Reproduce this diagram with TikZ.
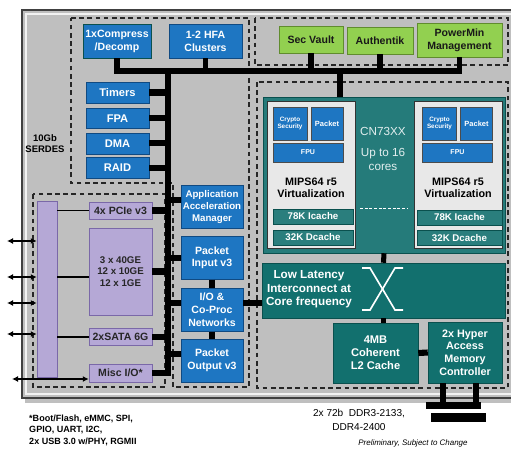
\documentclass[tikz,border=0pt]{standalone}
\usepackage{fontspec}
\setmainfont{Liberation Sans}
\usetikzlibrary{arrows.meta, positioning, calc}
\definecolor{chipgray}{RGB}{191,191,191}
\definecolor{cnblue}{RGB}{30,118,194}
\definecolor{cnblueline}{RGB}{16,74,130}
\definecolor{cngreen}{RGB}{146,208,80}
\definecolor{cngreenline}{RGB}{96,140,46}
\definecolor{cnteal}{RGB}{18,112,110}
\definecolor{cntealline}{RGB}{10,80,78}
\definecolor{cnlilac}{RGB}{181,168,214}
\definecolor{cnlilacline}{RGB}{122,104,168}
\definecolor{cnpanel}{RGB}{232,232,232}

\begin{document}
\begin{tikzpicture}[x=0.03cm, y=-0.03cm,
  unitbox/.style={rectangle, draw=cnblueline, fill=cnblue, text=white, inner sep=0pt, align=center, font=\fontsize{9}{11}\selectfont\bfseries},
  sidebox/.style={unitbox, minimum width=1.89cm, minimum height=0.62cm, font=\fontsize{9.5}{11}\selectfont\bfseries},
  appbox/.style={unitbox, minimum width=1.86cm, minimum height=1.3cm},
  minibox/.style={unitbox, draw=black!70, line width=0.7pt},
  secbox/.style={rectangle, draw=cngreenline, fill=cngreen, text=black!90, inner sep=0pt, align=center, font=\fontsize{9}{11}\selectfont\bfseries},
  tealbox/.style={rectangle, draw=cntealline, fill=cnteal, text=white, inner sep=0pt, align=center, font=\fontsize{9.5}{11}\selectfont\bfseries},
  cachebox/.style={tealbox, fill=cnteal!90!white, minimum height=0.45cm, font=\fontsize{8.3}{10}\selectfont\bfseries},
  corepanel/.style={rectangle, draw=black!80, fill=cnpanel, line width=0.8pt, minimum width=2.64cm, minimum height=4.41cm},
  portbox/.style={rectangle, draw=cnlilacline, fill=cnlilac, text=black!85, inner sep=0pt, align=center, minimum width=1.89cm, font=\fontsize{9}{10}\selectfont\bfseries},
  ddrbar/.style={rectangle, fill=black, inner sep=0pt},
  zone/.style={draw=black!85, line width=0.9pt, dash pattern=on 4pt off 3pt},
  bus/.style={line width=4.3pt},
  tap/.style={line width=5.2pt},
  link/.style={line width=1.5pt},
  dbl/.style={{Latex[length=1.8mm,width=1.8mm]}-{Latex[length=1.8mm,width=1.8mm]}, line width=1.2pt},
  xcross/.style={white, line width=1.4pt}
]
\useasboundingbox (0,0) rectangle (511,448);
\clip (0,0) rectangle (511,448);

% chip body
\fill[black!25] (25,13) rectangle (525,403);
\draw[draw=black!75, line width=1.6pt, fill=chipgray] (22,10) rectangle (525,398);
\draw[white!80!chipgray, line width=1pt] (26,14) rectangle (521,394);

% dashed regions
\draw[zone] (71,18) -- (249,18) -- (249,387) -- (173,387) -- (173,183) -- (71,183) -- cycle;
\draw[zone] (255,18) rectangle (508,65);
\draw[zone] (257,82) rectangle (508,388);
\draw[zone] (33,194) rectangle (165,387);

\node[font=\fontsize{8.1}{9.4}\selectfont\bfseries, align=center] (serdes) at (45,144) {10Gb\\SERDES};

% top left units
\node[unitbox, draw=cntealline, minimum width=2.04cm, minimum height=1.02cm] (comp) at (117,41) {1xCompress\\/Decomp};
\node[unitbox, minimum width=2.19cm, minimum height=1.02cm] (hfa) at (205.5,41) {1-2 HFA\\Clusters};
\node[sidebox] (timers) at (117.5,92.5) {Timers};
\node[sidebox, below=0.14cm of timers] (fpa) {FPA};
\node[sidebox, below=0.12cm of fpa] (dma) {DMA};
\node[sidebox, below=0.1cm of dma] (raid) {RAID};

% security
\node[secbox, minimum width=1.92cm, minimum height=0.81cm] (vault) at (311,39.5) {Sec Vault};
\node[secbox, minimum width=1.98cm, minimum height=0.81cm] (auth) at (380,40.5) {Authentik};
\node[secbox, minimum width=2.55cm, minimum height=1.02cm] (pwr) at (459.5,40) {PowerMin\\Management};

% cores
\node[tealbox, fill=cnteal!92!white, minimum width=7.26cm, minimum height=4.68cm] (cores) at (384,175) {};
\node[corepanel] (lcore) at (311,174.5) {};
\node[corepanel] (rcore) at (458,174.5) {};
\node[minibox, minimum width=1.02cm, minimum height=0.99cm, font=\fontsize{5.4}{6}\selectfont\bfseries] (lcrypto) at (290,123.5) {Crypto\\Security};
\node[minibox, minimum width=0.96cm, minimum height=0.99cm, font=\fontsize{6.4}{7}\selectfont\bfseries] (lpkt) at (327,123.5) {Packet};
\node[minibox, minimum width=2.1cm, minimum height=0.57cm, font=\fontsize{6}{7}\selectfont\bfseries] (lfpu) at (308,152.5) {FPU};
\node[font=\fontsize{9.2}{10.7}\selectfont\bfseries, align=center] (lmips) at (311,188) {MIPS64 r5\\Virtualization};
\node[cachebox, minimum width=2.4cm] (licache) at (313,216.5) {78K Icache};
\node[cachebox, minimum width=2.4cm] (ldcache) at (313,237.5) {32K Dcache};
\node[minibox, minimum width=1.02cm, minimum height=0.99cm, font=\fontsize{5.4}{6}\selectfont\bfseries] (rcrypto) at (439.5,123.5) {Crypto\\Security};
\node[minibox, minimum width=0.96cm, minimum height=0.99cm, font=\fontsize{6.4}{7}\selectfont\bfseries] (rpkt) at (476.5,123.5) {Packet};
\node[minibox, minimum width=2.1cm, minimum height=0.57cm, font=\fontsize{6}{7}\selectfont\bfseries] (rfpu) at (457.5,152.5) {FPU};
\node[font=\fontsize{9.2}{10.7}\selectfont\bfseries, align=center] (rmips) at (458,188) {MIPS64 r5\\Virtualization};
\node[cachebox, minimum width=2.55cm] (ricache) at (459.5,217.5) {78K Icache};
\node[cachebox, minimum width=2.55cm] (rdcache) at (459.5,238) {32K Dcache};
\node[text=white!88!cnteal, font=\fontsize{10}{12}\selectfont, align=center] (cnlabel) at (383,149) {CN73XX\\[6pt]Up to 16\\cores};
\draw[white, line width=0.8pt, dash pattern=on 2.5pt off 1.5pt] (360,208) -- (407,208);

% interconnect and memory
\node[tealbox, minimum width=7.29cm, minimum height=1.65cm] (icn) at (383.5,290.5) {};
\node[text=white, font=\fontsize{10}{11.5}\selectfont\bfseries, align=center] (icnlabel) at (309,289.5) {Low Latency\\Interconnect at\\Core frequency};
\draw[xcross] (362,268) -- (370,268) -- (395,310) -- (403,310);
\draw[xcross] (362,310) -- (370,310) -- (395,268) -- (403,268);
\node[tealbox, minimum width=2.55cm, minimum height=1.8cm] (l2) at (375.5,353) {4MB\\Coherent\\L2 Cache};
\node[tealbox, minimum width=2.22cm, minimum height=1.83cm, font=\fontsize{9.2}{10.8}\selectfont\bfseries] (memctl) at (465,352.5) {2x Hyper\\Access\\Memory\\Controller};
\node[ddrbar, minimum width=1.65cm, minimum height=0.21cm] (ddra) at (453.5,405.5) {};
\node[ddrbar, minimum width=1.65cm, minimum height=0.27cm] (ddrb) at (458.5,417.5) {};

% packet path
\node[appbox, font=\fontsize{8.3}{10}\selectfont\bfseries] (aam) at (212,207) {Application\\Acceleration\\Manager};
\node[appbox, below=0.21cm of aam] (pin) {Packet\\Input v3};
\node[appbox, below=0.24cm of pin] (iocp) {I/O \&\\Co-Proc\\Networks};
\node[appbox, below=0.21cm of iocp] (pout) {Packet\\Output v3};

% interfaces
\node[portbox, minimum width=0.6cm, minimum height=5.28cm] (pbar) at (47,289) {};
\node[portbox, minimum height=0.51cm] (pcie) at (120.5,210.5) {4x PCIe v3};
\node[portbox, minimum height=2.61cm, font=\fontsize{8.3}{9.8}\selectfont\bfseries] (ge) at (120.5,271.5) {3 x 40GE\\12 x 10GE\\12 x 1GE};
\node[portbox, minimum height=0.5cm] (sata) at (120.5,337) {2xSATA 6G};
\node[portbox, minimum height=0.54cm] (misc) at (120.5,373) {Misc I/O*};

% notes
\node[font=\fontsize{8.6}{12}\selectfont, align=center] (ddrtxt) at (359,420) {2x 72b\ \ DDR3-2133,\\DDR4-2400};
\node[anchor=north west, inner sep=0pt, font=\fontsize{7.7}{9.8}\selectfont\bfseries, align=left] (boot) at (29,414.5) {*Boot/Flash, eMMC, SPI,\\GPIO, UART, I2C,\\2x USB 3.0 w/PHY, RGMII};
\node[font=\fontsize{6.8}{8}\selectfont\itshape] (prelim) at (413,443) {Preliminary, Subject to Change};

% buses
\coordinate (bushub) at (168,71);
\draw[bus] (comp.south) |- (pwr.south |- bushub) -- (pwr.south);
\draw[bus] (misc.east) -| (bushub);
\draw[bus] (hfa.south) -- (hfa.south |- bushub);
\draw[bus] (vault.south) -- (vault.south |- bushub);
\draw[bus] (auth.south) -- (auth.south |- bushub);
\draw[bus] ([xshift=-1.32cm]cores.north) -- ([xshift=-1.32cm]cores.north |- bushub);
\draw[tap] (timers.east) -- (timers.east -| bushub);
\draw[tap] (fpa.east) -- (fpa.east -| bushub);
\draw[tap] (dma.east) -- (dma.east -| bushub);
\draw[tap] (raid.east) -- (raid.east -| bushub);
\draw[tap] (pcie.east) -- (pcie.east -| bushub);
\draw[tap] (ge.east) -- (ge.east -| bushub);
\draw[tap] (sata.east) -- (sata.east -| bushub);
\coordinate (aamin) at ([yshift=0.21cm]aam.west);
\coordinate (iocpin) at ([yshift=0.2cm]iocp.west);
\coordinate (iocpout) at ([yshift=0.2cm]iocp.east);
\coordinate (poutin) at ([yshift=0.18cm]pout.west);
\draw[tap] (aamin -| bushub) -- (aamin);
\draw[tap] (pin.west -| bushub) -- (pin.west);
\draw[tap] (iocpin -| bushub) -- (iocpin);
\draw[tap] (poutin -| bushub) -- (poutin);
\draw[tap] (iocpout) -- (iocpout -| icn.west);
\draw[bus] (pin.south) -- (iocp.north);
\draw[bus] (iocp.south) -- (pout.north);
\draw[bus] (cores.south) -- (icn.north);
\draw[bus] (icn.south) -- (icn.south |- l2.north);
\draw[tap] (l2.east) -- (memctl.west);
\draw[bus] ([xshift=-0.66cm]memctl.south) -- ([xshift=-0.66cm]memctl.south |- ddra.north);
\draw[bus] ([xshift=0.33cm]memctl.south) -- ([xshift=0.33cm]memctl.south |- ddra.north);

% interface links
\coordinate (gelink) at ([yshift=-0.17cm]ge.west);
\draw[link] (pcie.west -| pbar.east) -- (pcie.west);
\draw[link] (gelink -| pbar.east) -- (gelink);
\draw[link] (sata.west -| pbar.east) -- (sata.west);
\coordinate (ext1) at (7,241);
\coordinate (ext2) at (7,277);
\coordinate (ext3) at (7,303);
\coordinate (ext4) at (7,334);
\coordinate (ext5) at (12,379);
\draw[dbl] (ext1) -- (ext1 -| pbar.west);
\draw[dbl] (ext2) -- (ext2 -| pbar.west);
\draw[dbl] (ext3) -- (ext3 -| pbar.west);
\draw[dbl] (ext4) -- (ext4 -| pbar.west);
\draw[dbl] (ext5) -- (ext5 -| misc.west);
\end{tikzpicture}
\end{document}
